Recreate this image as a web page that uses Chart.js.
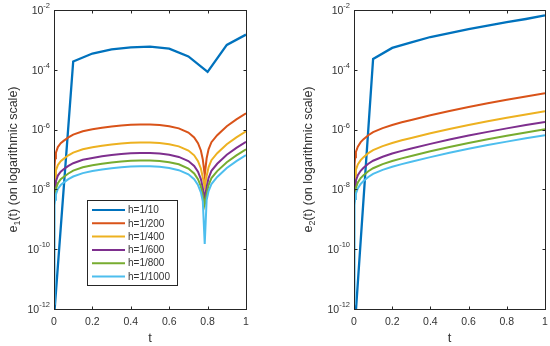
<!DOCTYPE html>
<html>
<head>
<meta charset="utf-8">
<script src="https://cdn.jsdelivr.net/npm/chart.js@4/dist/chart.umd.min.js"></script>
<style>
html, body { margin: 0; padding: 0; background: #fff; }
#wrap { position: relative; width: 550px; height: 346px; }
.pane { position: absolute; top: 0; width: 275px; height: 346px; }
</style>
</head>
<body>
<div id="wrap">
  <div class="pane" style="left:0"><canvas id="c1"></canvas></div>
  <div class="pane" style="left:275px"><canvas id="c2"></canvas></div>
</div>
<script>
// series labels + colours (matlab defaults)
var labels = ['h=1/10', 'h=1/200', 'h=1/400', 'h=1/600', 'h=1/800', 'h=1/1000'];
var colors = ['#0072BD', '#D95319', '#EDB120', '#7E2F8E', '#77AC30', '#4DBEEE'];

var xTicks = [0, 0.2, 0.4, 0.6, 0.8, 1];
var yTicks = [1e-12, 1e-10, 1e-8, 1e-6, 1e-4, 1e-2];

// coarse grid h=1/10
var tCoarse = [0, 0.1, 0.2, 0.3, 0.4, 0.5, 0.6, 0.7, 0.8, 0.9, 1.0];

// ---- left panel, e1(t) ----
var e1_h10 = [5e-13, 1.9e-4, 3.5e-4, 4.8e-4, 5.6e-4, 6e-4, 5.1e-4, 2.8e-4, 8.5e-5, 6.8e-4, 1.5e-3];

var tLeft = [0, 0.003, 0.006, 0.01, 0.02, 0.035, 0.05, 0.075, 0.1, 0.15, 0.2, 0.25, 0.3, 0.35, 0.4, 0.45, 0.5,
  0.55, 0.6, 0.65, 0.7, 0.73, 0.75, 0.765, 0.775, 0.785, 0.795, 0.805, 0.82, 0.85, 0.9, 0.95, 1.0];
var e1_h200 = [3e-8, 6e-8, 1.1e-7, 1.7e-7, 2.6e-7, 3.5e-7, 4.2e-7, 5.5e-7, 6.8e-7, 8.8e-7, 1.02e-6, 1.15e-6, 1.28e-6,
  1.38e-6, 1.45e-6, 1.48e-6, 1.48e-6, 1.42e-6, 1.3e-6, 1.1e-6, 8e-7, 5.5e-7, 3.5e-7, 2e-7, 1e-7, 3e-8, 1.1e-7,
  2.2e-7, 3.8e-7, 6.5e-7, 1.3e-6, 2.2e-6, 3.5e-6];
var e1_h400 = [1.2e-8, 1.7e-8, 2.8e-8, 4.3e-8, 6.5e-8, 8.8e-8, 1.05e-7, 1.38e-7, 1.7e-7, 2.2e-7, 2.55e-7, 2.9e-7, 3.2e-7,
  3.45e-7, 3.62e-7, 3.7e-7, 3.7e-7, 3.55e-7, 3.25e-7, 2.75e-7, 2e-7, 1.38e-7, 8.8e-8, 5e-8, 2.5e-8, 1.2e-8, 2.8e-8,
  5.5e-8, 9.5e-8, 1.63e-7, 3.25e-7, 5.5e-7, 8.8e-7];
var e1_h600 = [6e-9, 8e-9, 1.2e-8, 1.9e-8, 2.9e-8, 3.9e-8, 4.7e-8, 6.1e-8, 7.5e-8, 9.8e-8, 1.13e-7, 1.28e-7, 1.42e-7,
  1.53e-7, 1.61e-7, 1.64e-7, 1.64e-7, 1.58e-7, 1.44e-7, 1.22e-7, 8.9e-8, 6.1e-8, 3.9e-8, 2.2e-8, 1.1e-8, 5e-9, 1.2e-8,
  2.4e-8, 4.2e-8, 7.2e-8, 1.44e-7, 2.45e-7, 3.9e-7];
var e1_h800 = [4e-9, 5e-9, 7e-9, 1.06e-8, 1.6e-8, 2.2e-8, 2.6e-8, 3.4e-8, 4.25e-8, 5.5e-8, 6.4e-8, 7.2e-8, 8e-8,
  8.6e-8, 9.1e-8, 9.25e-8, 9.25e-8, 8.9e-8, 8.1e-8, 6.9e-8, 5e-8, 3.4e-8, 2.2e-8, 1.25e-8, 6.5e-9, 3e-9, 7e-9,
  1.4e-8, 2.4e-8, 4.1e-8, 8.1e-8, 1.38e-7, 2.2e-7];
var e1_h1000 = [1.5e-12, 3e-9, 4.5e-9, 6.8e-9, 1.04e-8, 1.4e-8, 1.68e-8, 2.2e-8, 2.7e-8, 3.5e-8, 4.1e-8, 4.6e-8, 5.1e-8,
  5.5e-8, 5.8e-8, 5.9e-8, 5.9e-8, 5.7e-8, 5.2e-8, 4.4e-8, 3.2e-8, 2.2e-8, 1.4e-8, 8e-9, 4e-9, 1.5e-10, 4.4e-9,
  8.8e-9, 1.5e-8, 2.6e-8, 5.2e-8, 8.8e-8, 1.4e-7];

// ---- right panel, e2(t) ----
var e2_h10 = [1e-13, 2.3e-4, 5.4e-4, 8.3e-4, 1.25e-3, 1.7e-3, 2.3e-3, 3e-3, 3.9e-3, 5e-3, 6.6e-3];

var tRight = [0, 0.003, 0.006, 0.01, 0.02, 0.035, 0.05, 0.075, 0.1, 0.15, 0.2, 0.25, 0.3, 0.4, 0.5, 0.6, 0.7, 0.8, 0.9, 1.0];
var e2_h200 = [2.7e-8, 7e-8, 1.2e-7, 1.8e-7, 2.7e-7, 3.8e-7, 4.8e-7, 6.5e-7, 8.2e-7, 1.12e-6, 1.42e-6, 1.75e-6, 2.1e-6,
  3e-6, 4.2e-6, 5.7e-6, 7.6e-6, 9.9e-6, 1.28e-5, 1.63e-5];
var e2_h400 = [1.2e-8, 1.8e-8, 3e-8, 4.5e-8, 6.8e-8, 9.5e-8, 1.2e-7, 1.63e-7, 2.05e-7, 2.8e-7, 3.55e-7, 4.4e-7, 5.25e-7,
  7.5e-7, 1.05e-6, 1.43e-6, 1.9e-6, 2.48e-6, 3.2e-6, 4.1e-6];
var e2_h600 = [6e-9, 8e-9, 1.3e-8, 2e-8, 3e-8, 4.2e-8, 5.3e-8, 7.2e-8, 9.1e-8, 1.24e-7, 1.58e-7, 1.94e-7, 2.33e-7,
  3.33e-7, 4.67e-7, 6.3e-7, 8.4e-7, 1.1e-6, 1.42e-6, 1.81e-6];
var e2_h800 = [4e-9, 5e-9, 7.5e-9, 1.12e-8, 1.7e-8, 2.4e-8, 3e-8, 4.06e-8, 5.1e-8, 7e-8, 8.9e-8, 1.09e-7, 1.31e-7,
  1.88e-7, 2.63e-7, 3.56e-7, 4.75e-7, 6.2e-7, 8e-7, 1.02e-6];
var e2_h1000 = [1.5e-12, 3e-9, 4.8e-9, 7.2e-9, 1.08e-8, 1.52e-8, 1.92e-8, 2.6e-8, 3.3e-8, 4.5e-8, 5.7e-8, 7e-8, 8.4e-8,
  1.2e-7, 1.68e-7, 2.28e-7, 3.04e-7, 3.96e-7, 5.1e-7, 6.5e-7];

var FONT = "'Liberation Sans', Arial, Helvetica, sans-serif";
var TXT = '#333333';

function pts(t, v) {
  return t.map(function(x, i) { return { x: x, y: v[i] }; });
}

function buildSets(coarse, fineT, fine) {
  var all = [pts(tCoarse, coarse)];
  fine.forEach(function(v) { all.push(pts(fineT, v)); });
  return all.map(function(d, i) {
    return {
      label: labels[i],
      data: d,
      borderColor: colors[i],
      backgroundColor: colors[i],
      borderWidth: i == 0 ? 2.3 : 2,
      pointRadius: 0,
      tension: 0,
      fill: false,
      order: 5 - i
    };
  });
}

// matlab style box, inward ticks, 10^n labels, subscripted ylabel, legend
var matlabAxes = {
  id: 'matlabAxes',
  afterDraw: function(chart, args, opts) {
    var ctx = chart.ctx, a = chart.chartArea;
    var xs = chart.scales.x, ys = chart.scales.y;
    var L = Math.round(a.left) + 0.5, R = Math.round(a.right) + 0.5;
    var T = Math.round(a.top) + 0.5, B = Math.round(a.bottom) + 0.5;
    ctx.save();
    ctx.strokeStyle = '#262626';
    ctx.lineWidth = 1;
    ctx.strokeRect(L, T, R - L, B - T);
    ctx.beginPath();
    xTicks.forEach(function(v) {
      var px = Math.round(xs.getPixelForValue(v)) + 0.5;
      ctx.moveTo(px, B); ctx.lineTo(px, B - 3);
      ctx.moveTo(px, T); ctx.lineTo(px, T + 3);
    });
    yTicks.forEach(function(v) {
      var py = Math.round(ys.getPixelForValue(v)) + 0.5;
      ctx.moveTo(L, py); ctx.lineTo(L + 3, py);
      ctx.moveTo(R, py); ctx.lineTo(R - 3, py);
    });
    ctx.stroke();

    // y tick labels 10^n
    ctx.fillStyle = TXT;
    ctx.textBaseline = 'middle';
    ctx.textAlign = 'right';
    yTicks.forEach(function(v) {
      var py = ys.getPixelForValue(v);
      var ex = String(Math.round(Math.log10(v)));
      ctx.font = '7.5px ' + FONT;
      var w = ctx.measureText(ex).width;
      ctx.fillText(ex, a.left - 4, py - 4);
      ctx.font = '10.5px ' + FONT;
      ctx.fillText('10', a.left - 4 - w, py + 1);
    });

    // y label with subscript
    ctx.save();
    ctx.translate(opts.titleX, (a.top + a.bottom) / 2);
    ctx.rotate(-Math.PI / 2);
    ctx.textAlign = 'left';
    ctx.font = '12.5px ' + FONT;
    var w1 = ctx.measureText('e').width;
    var w3 = ctx.measureText('(t) (on logarithmic scale)').width;
    ctx.font = '9px ' + FONT;
    var w2 = ctx.measureText(opts.sub).width;
    var x0 = -(w1 + w2 + w3) / 2;
    ctx.font = '12.5px ' + FONT;
    ctx.fillText('e', x0, 0);
    ctx.font = '9px ' + FONT;
    ctx.fillText(opts.sub, x0 + w1, 4);
    ctx.font = '12.5px ' + FONT;
    ctx.fillText('(t) (on logarithmic scale)', x0 + w1 + w2, 0);
    ctx.restore();

    if (opts.legend) {
      var lx = 87.5, ly = 200.5, lw = 90, lh = 85;
      ctx.fillStyle = '#fff';
      ctx.fillRect(lx, ly, lw, lh);
      ctx.strokeStyle = '#262626';
      ctx.strokeRect(lx, ly, lw, lh);
      ctx.font = '10px ' + FONT;
      ctx.textAlign = 'left';
      chart.data.datasets.forEach(function(ds, i) {
        var ry = 210 + i * 13.3;
        ctx.strokeStyle = ds.borderColor;
        ctx.lineWidth = 2;
        ctx.beginPath();
        ctx.moveTo(92, ry); ctx.lineTo(125, ry);
        ctx.stroke();
        ctx.fillStyle = TXT;
        ctx.fillText(ds.label, 128, ry + 0.5);
      });
    }
    ctx.restore();
  }
};

function makeChart(id, sets, yWidth, padRight, sub, titleX, legend) {
  return new Chart(document.getElementById(id), {
    type: 'line',
    data: { datasets: sets },
    options: {
      responsive: true,
      maintainAspectRatio: false,
      animation: false,
      devicePixelRatio: 1,
      layout: { padding: { top: 10, right: padRight, left: 0, bottom: 0 } },
      plugins: {
        legend: { display: false },
        tooltip: { enabled: false },
        matlabAxes: { sub: sub, titleX: titleX, legend: legend }
      },
      scales: {
        x: {
          type: 'linear',
          min: 0, max: 1,
          grid: { display: false, drawTicks: false },
          border: { display: false },
          afterBuildTicks: function(s) { s.ticks = xTicks.map(function(v) { return { value: v }; }); },
          afterFit: function(s) {
            s.height = 37;
            // don't let the edge labels push the plot box in
            s.paddingLeft = 0;
            s.paddingRight = 0;
          },
          ticks: {
            padding: 7,
            maxRotation: 0,
            color: TXT,
            font: { family: FONT, size: 10.5 },
            callback: function(v) { return String(Math.round(v * 10) / 10); }
          },
          title: { display: true, text: 't', color: TXT, font: { family: FONT, size: 13 }, padding: { top: 0, bottom: 0 } }
        },
        y: {
          type: 'logarithmic',
          min: 1e-12, max: 1e-2,
          grid: { display: false, drawTicks: false },
          border: { display: false },
          ticks: { display: false },
          afterBuildTicks: function(s) { s.ticks = yTicks.map(function(v) { return { value: v }; }); },
          afterFit: function(s) { s.width = yWidth; }
        }
      }
    },
    plugins: [matlabAxes]
  });
}

makeChart('c1', buildSets(e1_h10, tLeft, [e1_h200, e1_h400, e1_h600, e1_h800, e1_h1000]), 54, 29, '1', 14, true);
makeChart('c2', buildSets(e2_h10, tRight, [e2_h200, e2_h400, e2_h600, e2_h800, e2_h1000]), 79, 5, '2', 34, false);
</script>
</body>
</html>
